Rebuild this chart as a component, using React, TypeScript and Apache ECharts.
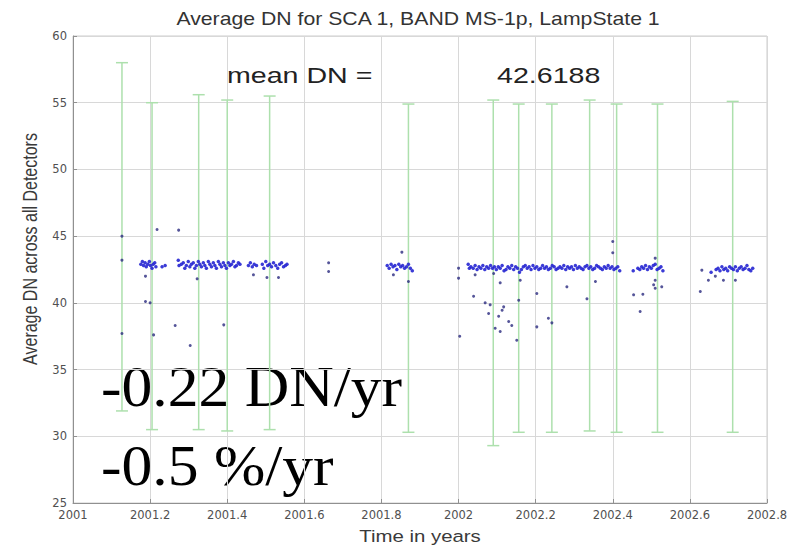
import React, { useEffect, useRef } from "react";
import * as echarts from "echarts";

// Axis ranges and ticks
const X_MIN = 2001;
const X_MAX = 2002.8;
const X_STEP = 0.2;
const Y_MIN = 25;
const Y_MAX = 60;
const Y_STEP = 5;

// Lamp-state error bars: date, low, high (DN)
const barYears = [2001.127, 2001.205, 2001.326, 2001.4, 2001.51, 2001.87, 2002.09, 2002.156, 2002.242, 2002.34, 2002.41, 2002.516, 2002.711];
const barLow = [31.9, 30.5, 30.5, 30.4, 30.5, 30.3, 29.3, 30.3, 30.3, 30.4, 30.3, 30.3, 30.3];
const barHigh = [58.0, 55.0, 55.6, 55.2, 55.5, 54.9, 55.2, 54.9, 54.9, 55.2, 54.9, 54.9, 55.1];

// Average DN per acquisition, grouped by collection run
const run2001a: number[][] = [
  [2001.176, 42.9], [2001.18, 43.1], [2001.183, 42.8], [2001.187, 43.0], [2001.19, 42.7], [2001.194, 42.9],
  [2001.198, 43.1], [2001.201, 42.8], [2001.205, 42.6], [2001.208, 42.9], [2001.212, 43.0], [2001.215, 42.7],
  [2001.231, 42.7], [2001.239, 42.8],
];
const run2001b: number[][] = [
  [2001.273, 43.2], [2001.275, 42.8], [2001.281, 42.9], [2001.286, 43.0], [2001.29, 42.6], [2001.294, 42.8],
  [2001.299, 43.1], [2001.303, 42.7], [2001.307, 42.9], [2001.312, 43.0], [2001.316, 42.6], [2001.32, 42.8],
  [2001.325, 43.1], [2001.329, 42.9], [2001.333, 42.7], [2001.338, 43.0], [2001.342, 42.8], [2001.346, 42.6],
  [2001.351, 43.1], [2001.355, 42.9], [2001.359, 42.7], [2001.364, 43.0], [2001.368, 42.8], [2001.372, 42.6],
  [2001.377, 43.1], [2001.381, 42.9], [2001.385, 42.7], [2001.39, 43.0], [2001.394, 42.8], [2001.398, 42.6],
  [2001.403, 43.0], [2001.407, 42.8], [2001.411, 42.9], [2001.416, 43.1], [2001.42, 42.7], [2001.424, 42.8],
  [2001.429, 43.0], [2001.433, 42.9],
  [2001.455, 42.8], [2001.46, 43.0], [2001.465, 42.7], [2001.47, 42.9], [2001.476, 42.8],
  [2001.491, 42.9], [2001.495, 42.6], [2001.5, 43.1], [2001.505, 42.8], [2001.51, 42.9], [2001.515, 42.7],
  [2001.52, 43.0], [2001.526, 42.8], [2001.531, 42.6], [2001.536, 42.9], [2001.541, 43.0], [2001.546, 42.7],
  [2001.551, 42.8], [2001.555, 42.9],
];
const run2001c: number[][] = [
  [2001.815, 42.8], [2001.82, 42.6], [2001.825, 42.9], [2001.83, 42.7], [2001.835, 42.8], [2001.84, 42.5],
  [2001.845, 42.9], [2001.85, 42.7], [2001.855, 42.8], [2001.86, 42.6], [2001.865, 42.7], [2001.87, 42.9],
  [2001.875, 42.6], [2001.88, 42.4],
];
const run2002a: number[][] = [
  [2002.025, 42.9], [2002.028, 42.6], [2002.032, 42.7], [2002.038, 42.6], [2002.043, 42.8], [2002.048, 42.5],
  [2002.053, 42.7], [2002.058, 42.6], [2002.063, 42.8], [2002.068, 42.5], [2002.073, 42.7], [2002.078, 42.6],
  [2002.083, 42.8], [2002.088, 42.6], [2002.093, 42.7], [2002.098, 42.5], [2002.103, 42.7], [2002.108, 42.6],
  [2002.113, 42.8], [2002.118, 42.4], [2002.123, 42.5], [2002.128, 42.7], [2002.133, 42.6], [2002.138, 42.8],
  [2002.143, 42.5], [2002.148, 42.7], [2002.153, 42.6], [2002.158, 42.3], [2002.163, 42.5], [2002.168, 42.7],
  [2002.173, 42.8], [2002.178, 42.6], [2002.183, 42.7], [2002.188, 42.5], [2002.193, 42.8], [2002.198, 42.6],
  [2002.203, 42.7], [2002.208, 42.5], [2002.213, 42.6], [2002.218, 42.8], [2002.223, 42.6], [2002.228, 42.7],
  [2002.233, 42.5], [2002.238, 42.6], [2002.243, 42.8], [2002.248, 42.7], [2002.253, 42.5], [2002.258, 42.6],
  [2002.263, 42.7], [2002.268, 42.6], [2002.273, 42.8], [2002.278, 42.5], [2002.283, 42.7], [2002.288, 42.6],
  [2002.293, 42.7], [2002.298, 42.5], [2002.303, 42.8], [2002.308, 42.6], [2002.313, 42.7], [2002.318, 42.6],
  [2002.323, 42.5], [2002.328, 42.7], [2002.333, 42.8], [2002.338, 42.6], [2002.343, 42.7], [2002.348, 42.5],
  [2002.353, 42.6], [2002.358, 42.8], [2002.363, 42.7], [2002.368, 42.6], [2002.373, 42.5], [2002.378, 42.7],
  [2002.383, 42.6], [2002.388, 42.8], [2002.393, 42.6], [2002.398, 42.7], [2002.403, 42.5], [2002.408, 42.6],
  [2002.413, 42.7], [2002.418, 42.4],
];
const run2002b: number[][] = [
  [2002.453, 42.4], [2002.465, 42.6], [2002.47, 42.5], [2002.475, 42.7], [2002.48, 42.6], [2002.485, 42.8],
  [2002.49, 42.5], [2002.495, 42.7], [2002.5, 42.6], [2002.505, 42.8], [2002.51, 42.9], [2002.515, 42.5],
  [2002.52, 42.6], [2002.525, 42.7], [2002.53, 42.4],
];
const run2002c: number[][] = [
  [2002.655, 42.3], [2002.668, 42.5], [2002.673, 42.6], [2002.678, 42.4], [2002.683, 42.7], [2002.688, 42.5],
  [2002.693, 42.6], [2002.698, 42.4], [2002.703, 42.7], [2002.708, 42.6], [2002.713, 42.5], [2002.718, 42.7],
  [2002.723, 42.4], [2002.728, 42.6], [2002.733, 42.7], [2002.738, 42.5], [2002.743, 42.6], [2002.748, 42.8],
  [2002.753, 42.5], [2002.758, 42.4], [2002.763, 42.6],
];
// Scattered acquisitions away from the main level
const strayPoints: number[][] = [
  [2001.127, 45.0], [2001.127, 43.2], [2001.127, 37.7],
  [2001.188, 42.0], [2001.188, 40.1], [2001.2, 40.0], [2001.209, 37.6],
  [2001.218, 45.5], [2001.265, 38.3], [2001.274, 45.45], [2001.304, 36.8], [2001.322, 41.8],
  [2001.391, 38.35], [2001.468, 42.1], [2001.503, 41.9], [2001.533, 41.9],
  [2001.663, 43.0], [2001.663, 42.35],
  [2001.831, 42.1], [2001.853, 43.8], [2001.87, 41.6],
  [2002.0, 42.6], [2002.0, 41.85], [2002.003, 37.5],
  [2002.039, 40.5], [2002.043, 42.1], [2002.069, 40.0], [2002.082, 39.85], [2002.078, 39.2], [2002.091, 42.2],
  [2002.095, 38.1], [2002.108, 37.85], [2002.108, 41.5], [2002.117, 39.7], [2002.113, 39.45], [2002.104, 39.0],
  [2002.13, 38.6], [2002.138, 38.3], [2002.151, 37.2], [2002.156, 40.2], [2002.16, 41.7],
  [2002.203, 40.7], [2002.203, 38.2], [2002.233, 38.85], [2002.242, 38.5], [2002.281, 41.2],
  [2002.333, 40.3], [2002.355, 41.6], [2002.4, 44.6], [2002.4, 43.75],
  [2002.454, 40.6], [2002.478, 40.65], [2002.471, 39.35], [2002.506, 41.35], [2002.51, 41.1],
  [2002.527, 41.2], [2002.51, 43.35], [2002.51, 41.7],
  [2002.631, 42.45], [2002.627, 40.85], [2002.648, 41.7], [2002.666, 42.0], [2002.687, 41.7], [2002.718, 41.7],
];

const TITLE = "Average DN for SCA 1, BAND MS-1p, LampState 1";
const Y_NAME = "Average DN across all Detectors";
const X_NAME = "Time in years";
const MEAN_LABEL = "mean DN =";
const MEAN_VALUE = "42.6188";
const TREND_DN = "-0.22 DN/yr";
const TREND_PCT = "-0.5 %/yr";

const SANS = "Arial, 'Liberation Sans', Helvetica, sans-serif";
const TICK_FONT = "'DejaVu Sans', Verdana, sans-serif";
const SERIF = "'Times New Roman', 'Liberation Serif', serif";

function text(
  x: number, y: number, str: string, size: number, family: string, fill: string,
  align: string, extra: Record<string, unknown> = {}
) {
  return {
    type: "text",
    x,
    y,
    silent: true,
    ...extra,
    style: {
      text: str,
      fontSize: size,
      fontFamily: family,
      fill,
      align,
      textAlign: align,
      verticalAlign: "middle",
      textVerticalAlign: "middle",
    },
  };
}

export default function App() {
  const ref = useRef<HTMLDivElement>(null);

  useEffect(() => {
    if (!ref.current) return;
    const chart = echarts.init(ref.current, null, { renderer: "svg" });

    const barData = barYears.map((x, i) => [x, barLow[i], barHigh[i]]);
    const mainRuns = [...run2001a, ...run2001b, ...run2001c, ...run2002a, ...run2002b, ...run2002c];
    const gridColor = "#d8d8d8";

    chart.setOption({
      animation: false,
      backgroundColor: "#ffffff",
      grid: {
        left: 73,
        right: 29,
        top: 36,
        bottom: 43,
        show: true,
        borderColor: "#cccccc",
        borderWidth: 1,
      },
      xAxis: {
        type: "value",
        min: X_MIN,
        max: X_MAX,
        interval: X_STEP,
        axisLine: { show: true, lineStyle: { color: "#909090", width: 1 } },
        axisTick: { show: true, inside: true, length: 4, lineStyle: { color: "#909090" } },
        axisLabel: {
          color: "#505050",
          fontSize: 11.5,
          fontFamily: TICK_FONT,
          margin: 6,
          formatter: (v: number) => String(Math.round(v * 10) / 10),
        },
        splitLine: { show: true, lineStyle: { color: gridColor, width: 1 } },
      },
      yAxis: {
        type: "value",
        min: Y_MIN,
        max: Y_MAX,
        interval: Y_STEP,
        axisLine: { show: true, lineStyle: { color: "#909090", width: 1 } },
        axisTick: { show: true, inside: true, length: 4, lineStyle: { color: "#909090" } },
        axisLabel: {
          color: "#505050",
          fontSize: 11.5,
          fontFamily: TICK_FONT,
          margin: 6,
        },
        splitLine: { show: true, lineStyle: { color: gridColor, width: 1 } },
      },
      series: [
        {
          type: "custom",
          name: "range",
          data: barData,
          encode: { x: 0, y: [1, 2] },
          z: 1,
          renderItem: (_params: unknown, api: any) => {
            const x = api.value(0);
            const lo = api.coord([x, api.value(1)]);
            const hi = api.coord([x, api.value(2)]);
            const w = 6;
            const style = { stroke: "#ade0ad", lineWidth: 1.5 };
            return {
              type: "group",
              children: [
                { type: "line", shape: { x1: hi[0], y1: hi[1], x2: lo[0], y2: lo[1] }, style },
                { type: "line", shape: { x1: hi[0] - w, y1: hi[1], x2: hi[0] + w, y2: hi[1] }, style },
                { type: "line", shape: { x1: lo[0] - w, y1: lo[1], x2: lo[0] + w, y2: lo[1] }, style },
              ],
            };
          },
        },
        {
          type: "scatter",
          name: "stray",
          data: strayPoints,
          symbol: "circle",
          symbolSize: 3,
          z: 3,
          itemStyle: { color: "#2a2a80", opacity: 0.8 },
        },
        {
          type: "scatter",
          name: "runs",
          data: mainRuns,
          symbol: "circle",
          symbolSize: 3.5,
          z: 4,
          itemStyle: { color: "#2626d2", opacity: 0.9 },
        },
      ],
      graphic: [
        text(418, 18.5, TITLE, 18, SANS, "#333333", "center", { scaleX: 1.18 }),
        text(30, 249, Y_NAME, 16, SANS, "#3a3a3a", "center", { rotation: Math.PI / 2, scaleY: 1.25 }),
        text(420, 536, X_NAME, 17, SANS, "#3a3a3a", "center", { scaleX: 1.2 }),
        text(227, 75.7, MEAN_LABEL, 22, SANS, "#222222", "left", { scaleX: 1.3 }),
        text(497, 75.7, MEAN_VALUE, 22, SANS, "#222222", "left", { scaleX: 1.3 }),
        text(101, 387.8, TREND_DN, 56, SERIF, "#000000", "left", { scaleX: 1.1 }),
        text(101, 466.1, TREND_PCT, 56, SERIF, "#000000", "left", { scaleX: 1.1 }),
      ],
    });

    return () => chart.dispose();
  }, []);

  return (
    <div
      ref={ref}
      style={{ position: "absolute", left: 0, top: 0, width: 796, height: 546, background: "#ffffff" }}
    />
  );
}
